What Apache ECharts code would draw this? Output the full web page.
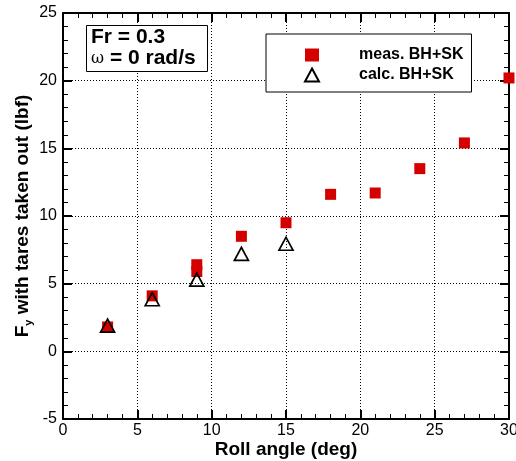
<!DOCTYPE html>
<html>
<head>
<meta charset="utf-8">
<script src="https://cdn.jsdelivr.net/npm/echarts@6/dist/echarts.min.js"></script>
<style>
  html, body { margin: 0; padding: 0; background: #fff; }
  #chart { width: 516px; height: 461px; }
</style>
</head>
<body>
<div id="chart"></div>
<script>
// Side force vs roll angle, Fr = 0.3, zero yaw rate
const measAngle = [3, 6, 9, 9, 12, 15, 18, 21, 24, 27, 30];
const measFy    = [1.8, 4.1, 6.4, 5.9, 8.5, 9.5, 11.6, 11.7, 13.5, 15.4, 20.2];
const calcAngle = [3, 6, 9, 12, 15];
const calcFy    = [1.9, 3.85, 5.3, 7.2, 7.95];

const xTicks = [0, 5, 10, 15, 20, 25, 30];
const yTicks = [-5, 0, 5, 10, 15, 20, 25];

const FONT = '"Liberation Sans", Arial, sans-serif';
const RED = '#d40000';

const pair = (xs, ys) => xs.map((x, i) => [x, ys[i]]);

const chart = echarts.init(document.getElementById('chart'), null, { renderer: 'canvas' });

const tickCommon = {
  axisLine: { show: true, onZero: false, lineStyle: { color: '#000', width: 2 } },
  axisTick: { show: true, inside: true, length: 9, lineStyle: { color: '#000', width: 2 } },
  minorTick: { show: true, splitNumber: 5, length: 5, lineStyle: { color: '#000', width: 1 } }
};

chart.setOption({
  animation: false,
  backgroundColor: '#fff',
  grid: { left: 63, right: 7, top: 13, bottom: 42, containLabel: false, outerBoundsMode: 'none' },
  xAxis: [
    Object.assign({
      type: 'value', min: xTicks[0], max: xTicks[xTicks.length - 1], interval: 5,
      position: 'bottom',
      name: 'Roll angle (deg)', nameLocation: 'middle', nameGap: 21, nameMoveOverlap: false,
      nameTextStyle: { fontFamily: FONT, fontSize: 19, fontWeight: 'bold', color: '#000' },
      axisLabel: { fontFamily: FONT, fontSize: 16, color: '#000', margin: 4 },
      splitLine: { show: true, lineStyle: { color: '#000', width: 1, type: [1, 2] } }
    }, tickCommon),
    Object.assign({
      type: 'value', min: xTicks[0], max: xTicks[xTicks.length - 1], interval: 5,
      position: 'top', axisLabel: { show: false }, splitLine: { show: false }
    }, tickCommon)
  ],
  yAxis: [
    Object.assign({
      type: 'value', min: yTicks[0], max: yTicks[yTicks.length - 1], interval: 5,
      position: 'left',
      name: '{t|F}{s|y}{t| with tares taken out (lbf)}',
      nameLocation: 'middle', nameRotate: 90, nameGap: 29, nameMoveOverlap: false,
      nameTextStyle: {
        rich: {
          t: { fontFamily: FONT, fontSize: 19, fontWeight: 'bold', color: '#000', lineHeight: 22 },
          s: { fontFamily: FONT, fontSize: 11, fontWeight: 'bold', color: '#000', lineHeight: 11, verticalAlign: 'bottom' }
        }
      },
      axisLabel: { fontFamily: FONT, fontSize: 16, color: '#000', margin: 6 },
      splitLine: { show: true, lineStyle: { color: '#000', width: 1, type: [1, 2] } }
    }, tickCommon),
    Object.assign({
      type: 'value', min: yTicks[0], max: yTicks[yTicks.length - 1], interval: 5,
      position: 'right', axisLabel: { show: false }, splitLine: { show: false }
    }, tickCommon)
  ],
  legend: {
    left: 266, top: 34, orient: 'vertical',
    width: 206,
    padding: [13, 8, 9, 38],
    itemGap: 4,
    itemWidth: 14, itemHeight: 13,
    borderColor: '#000', borderWidth: 1,
    backgroundColor: '#fff',
    textStyle: { fontFamily: FONT, fontSize: 16, fontWeight: 'bold', color: '#000', padding: [0, 0, 0, 35] },
    data: [
      { name: 'meas. BH+SK', icon: 'rect' },
      { name: 'calc. BH+SK', icon: 'triangle' }
    ]
  },
  graphic: [
    {
      type: 'rect', left: 86, top: 25, z: 100,
      shape: { width: 121, height: 46 },
      style: { fill: '#fff', stroke: '#000', lineWidth: 1 }
    },
    {
      type: 'text', left: 91, top: 27, z: 101,
      style: {
        text: '{a|Fr = 0.3}\n{w|ω}{a| = 0 rad/s}',
        rich: {
          a: { fontFamily: FONT, fontSize: 21, fontWeight: 'bold', fill: '#000', lineHeight: 21 },
          w: { fontFamily: '"DejaVu Serif", serif', fontSize: 16, fill: '#000', lineHeight: 21 }
        }
      }
    }
  ],
  series: [
    {
      name: 'meas. BH+SK', type: 'scatter',
      data: pair(measAngle, measFy),
      symbol: 'rect', symbolSize: 11,
      itemStyle: { color: RED, opacity: 1 },
      z: 3
    },
    {
      name: 'calc. BH+SK', type: 'scatter',
      data: pair(calcAngle, calcFy),
      symbol: 'triangle', symbolSize: [14, 13],
      itemStyle: { color: 'rgba(255,255,255,0)', borderColor: '#000', borderWidth: 1.7, opacity: 1 },
      z: 4
    }
  ]
});
</script>
</body>
</html>
